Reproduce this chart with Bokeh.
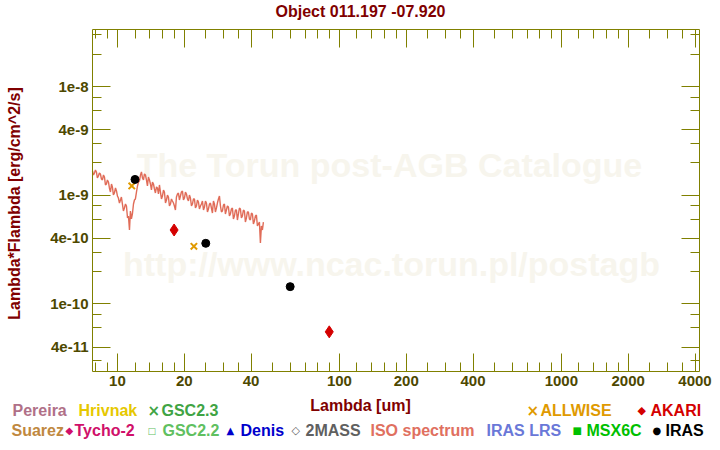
import math
from bokeh.plotting import figure
from bokeh.models import FixedTicker, LogAxis, Label, Range1d, CustomJSTickFormatter
from bokeh.embed import file_html
from bokeh.resources import INLINE

title_text = "Object 011.197 -07.920"
x_label = "Lambda [um]"
y_label = "Lambda*Flambda [erg/cm^2/s]"
watermark_1 = "The Torun post-AGB Catalogue"
watermark_2 = "http://www.ncac.torun.pl/postagb"

x_bounds = (7.72, 4190)
y_bounds = (2.38e-11, 3.37e-8)
x_major = [10, 20, 40, 100, 200, 400, 1000, 2000, 4000]
x_major_labels = ["10", "20", "40", "100", "200", "400", "1000", "2000", "4000"]
x_minor = [8, 9, 12, 14, 16, 18, 25, 30, 35, 50, 60, 70, 80, 90,
           120, 140, 160, 180, 250, 300, 350, 500, 600, 700, 800, 900,
           1200, 1400, 1600, 1800, 2500, 3000, 3500]
y_major = [1e-8, 4e-9, 1e-9, 4e-10, 1e-10, 4e-11]
y_major_labels = ["1e-8", "4e-9", "1e-9", "4e-10", "1e-10", "4e-11"]
y_minor = [3e-8, 2e-8, 8e-9, 6e-9, 3e-9, 2e-9, 8e-10, 6e-10, 3e-10, 2e-10,
           8e-11, 6e-11, 3e-11]

# photometry
iras_wl = [12, 25, 60]
iras_flux = [1.40e-9, 3.61e-10, 1.44e-10]
akari_wl = [18, 90]
akari_flux = [4.79e-10, 5.52e-11]
allwise_wl = [11.6, 22.1]
allwise_flux = [1.22e-9, 3.39e-10]

# ISO spectrum, two interleaved sets of readings (flux in units of 1e-10 erg/cm^2/s)
iso_wl_a = [7.72, 7.88, 8.04, 8.21, 8.38, 8.56, 8.74, 8.92, 9.11, 9.30,
            9.49, 9.69, 9.90, 10.10, 10.32, 10.53, 10.75, 10.98, 11.21, 11.33,
            11.44, 11.68, 11.93, 12.18, 12.44, 12.70, 12.96, 13.23, 13.51, 13.79,
            14.08, 14.38, 14.68, 14.99, 15.30, 15.46, 15.62, 15.95, 16.28, 16.63,
            16.97, 17.33, 17.69, 18.06, 18.44, 18.83, 19.22, 19.63, 20.04, 20.46,
            20.89, 21.32, 21.77, 22.23, 22.70, 23.17, 23.66, 24.15, 24.66, 25.17,
            25.70, 26.24, 26.79, 27.35, 27.92, 28.51, 29.11, 29.72, 30.34, 30.97,
            31.62, 32.28, 32.96, 33.65, 34.36, 35.08, 35.81, 36.56, 37.33, 38.11,
            38.91, 39.72, 40.56, 41.41, 42.27, 43.16, 44.06, 44.52, 44.99, 45.45]
iso_flux_a = [16.75, 16.06, 16.40, 15.06, 15.72, 13.84, 14.74, 12.71, 13.26, 10.72,
              11.93, 10.50, 10.96, 9.44, 9.05, 8.31, 7.64, 7.97, 6.45, 4.79,
              7.17, 6.73, 9.05, 10.72, 13.26, 15.38, 14.44, 15.72, 13.84, 14.74,
              12.71, 13.26, 11.43, 11.93, 10.28, 12.45, 10.72, 9.85, 10.72, 9.05,
              9.65, 8.31, 8.86, 7.97, 9.65, 10.50, 9.85, 10.96, 9.44, 10.28,
              8.86, 9.44, 8.31, 9.25, 7.97, 8.68, 7.97, 8.86, 7.80, 8.49,
              7.48, 8.49, 6.87, 8.31, 7.64, 9.25, 7.97, 7.17, 8.31, 7.32,
              7.80, 6.73, 7.64, 6.45, 7.32, 6.73, 7.48, 6.45, 7.17, 6.18,
              7.02, 5.92, 6.73, 5.80, 6.58, 5.44, 3.63, 5.21, 4.79, 5.67]
iso_wl_b = [7.80, 7.96, 8.12, 8.29, 8.47, 8.65, 8.83, 9.01, 9.20, 9.40,
            9.59, 9.80, 10.00, 10.21, 10.42, 10.64, 10.87, 11.10,
            11.56, 11.81, 12.05, 12.31, 12.57, 12.83, 13.10, 13.37, 13.65, 13.94,
            14.23, 14.53, 14.83, 15.14,
            15.79, 16.12, 16.46, 16.80, 17.15, 17.51, 17.88, 18.25, 18.64, 19.02,
            19.42, 19.83, 20.25, 20.67, 21.10, 21.55, 22.00, 22.46, 22.93, 23.41,
            23.90, 24.41, 24.92, 25.44, 25.97, 26.51, 27.07, 27.63, 28.21, 28.81,
            29.41, 30.03, 30.65, 31.29, 31.95, 32.62, 33.30, 34.00, 34.71, 35.44,
            36.18, 36.94, 37.71, 38.51, 39.31, 40.14, 40.98, 41.84, 42.71, 43.61]
iso_flux_b = [15.38, 17.11, 14.44, 16.06, 14.13, 15.38, 12.45, 13.84, 11.68, 12.71,
              10.06, 11.68, 9.85, 8.49, 9.65, 7.17, 8.31, 6.18,
              6.05, 8.31, 9.25, 12.18, 13.55, 16.40, 13.84, 15.38, 12.18, 13.84,
              11.19, 12.71, 10.50, 11.68,
              9.25, 11.19, 8.49, 10.06, 7.97, 9.25, 8.49, 7.32, 10.28, 9.05,
              10.72, 9.05, 10.72, 9.25, 10.06, 7.97, 9.25, 7.64, 9.05, 7.48,
              8.31, 7.32, 8.86, 7.02, 8.31, 7.64, 8.86, 7.02, 8.49, 9.85,
              7.02, 8.14, 6.73, 7.97, 6.45, 7.48, 6.05, 7.32, 5.92, 7.64,
              6.18, 7.32, 5.67, 7.02, 6.05, 6.87, 5.44, 6.45, 5.21, 5.67]

iso_pairs = sorted(list(zip(iso_wl_a, iso_flux_a)) + list(zip(iso_wl_b, iso_flux_b)))
iso_wl = [w for w, _ in iso_pairs]
iso_flux = [f * 1e-10 for _, f in iso_pairs]

# legend entries: (row, marker_x, marker, marker_size, text_x, label, color)
legend_items = [
    (1, 12, "", 0, 12, "Pereira", "#b07088"),
    (1, 78, "", 0, 78, "Hrivnak", "#e6c800"),
    (1, 147, "\u00d7", 15, 161, "GSC2.3", "#3fa444"),
    (1, 526, "\u00d7", 15, 540, "ALLWISE", "#e09a00"),
    (1, 637, "\u25c6", 11, 650, "AKARI", "#d40000"),
    (2, 11, "", 0, 11, "Suarez", "#c08840"),
    (2, 65, "\u25c6", 10, 74, "Tycho-2", "#d0106a"),
    (2, 147, "\u25a1", 9, 162, "GSC2.2", "#60c060"),
    (2, 226, "\u25b2", 10, 240, "Denis", "#0000cc"),
    (2, 291, "\u25c7", 11, 305, "2MASS", "#606060"),
    (2, 370, "", 0, 370, "ISO spectrum", "#e07060"),
    (2, 486, "", 0, 486, "IRAS LRS", "#6a78d8"),
    (2, 572, "\u25a0", 10, 586, "MSX6C", "#00c000"),
    (2, 652, "\u25cf", 10, 665, "IRAS", "#000000"),
]

OLIVE = "#808000"
TICKTXT = "#4d4800"
DARKRED = "#800000"
FONT = "Liberation Sans"

# plot box in canvas pixels
L, R, T, B = 92, 699, 29, 371
W, H = 720, 450

# extend ranges so that the axis bounds land on the plot box while the
# frame covers the whole canvas (so texts outside the box are not clipped)
xppd = (R - L) / math.log10(x_bounds[1] / x_bounds[0])
yppd = (B - T) / math.log10(y_bounds[1] / y_bounds[0])
x_full = (x_bounds[0] / 10 ** (L / xppd), x_bounds[1] * 10 ** ((W - R) / xppd))
y_full = (y_bounds[0] / 10 ** ((H - B) / yppd), y_bounds[1] * 10 ** (T / yppd))

p = figure(width=W, height=H, x_axis_type="log", y_axis_type="log",
           x_axis_location=None, y_axis_location=None,
           x_range=Range1d(*x_full), y_range=Range1d(*y_full),
           output_backend="svg", toolbar_location=None, title=None,
           min_border=0)
p.background_fill_color = "white"
p.border_fill_color = "white"
p.outline_line_color = None
p.grid.visible = False

xfmt = CustomJSTickFormatter(args=dict(t=x_major, l=x_major_labels),
    code="const i = t.findIndex(v => Math.abs(v/tick - 1) < 1e-6); return i >= 0 ? l[i] : '';")
yfmt = CustomJSTickFormatter(args=dict(t=y_major, l=y_major_labels),
    code="const i = t.findIndex(v => Math.abs(v/tick - 1) < 1e-6); return i >= 0 ? l[i] : '';")

def make_axis(fmt, ticks, minor, bounds, loc, labels=True):
    ax = LogAxis(ticker=FixedTicker(ticks=ticks, minor_ticks=minor),
                 formatter=fmt, bounds=bounds, fixed_location=loc)
    ax.axis_line_color = OLIVE
    ax.major_tick_line_color = OLIVE
    ax.minor_tick_line_color = OLIVE
    ax.major_tick_in = 18
    ax.major_tick_out = 0
    ax.minor_tick_in = 9
    ax.minor_tick_out = 0
    ax.major_label_text_font = FONT
    ax.major_label_text_font_style = "bold"
    ax.major_label_text_font_size = "15px"
    ax.major_label_text_color = TICKTXT if labels else None
    ax.major_label_standoff = 4
    ax.major_label_orientation = "horizontal"
    return ax

p.add_layout(make_axis(xfmt, x_major, x_minor, x_bounds, y_bounds[0]), "below")
p.add_layout(make_axis(yfmt, y_major, y_minor, y_bounds, x_bounds[0]), "left")
p.add_layout(make_axis(xfmt, x_major, x_minor, x_bounds, y_bounds[1], labels=False), "above")
p.add_layout(make_axis(yfmt, y_major, y_minor, y_bounds, x_bounds[1], labels=False), "right")

def add_label(cx, cy, text, color, size, align="left", font=FONT, style="bold",
              angle=0.0, level="annotation"):
    lab = Label(x=cx, y=H - cy, x_units="screen", y_units="screen", text=text,
                text_color=color, text_font_size=f"{size}px", text_font=font,
                text_font_style=style, text_align=align, text_baseline="middle",
                angle=angle, level=level)
    p.add_layout(lab)

# watermark
add_label(389, 164, watermark_1, "#f7f5ed", 34, align="center", level="underlay")
add_label(391, 263, watermark_2, "#f7f5ed", 34, align="center", level="underlay")

p.line(iso_wl, iso_flux, line_color="#e06c58", line_width=1.4)
p.scatter(allwise_wl, allwise_flux, marker="x", size=9, line_width=2, color="#e09a00")
p.scatter(akari_wl, akari_flux, marker="diamond", size=12, color="#d40000")
p.scatter(iras_wl, iras_flux, marker="circle", size=8, color="black")

add_label(360, 11, title_text, DARKRED, 16, align="center")
add_label(360, 405, x_label, DARKRED, 16, align="center")
add_label(14, 203, y_label, DARKRED, 16, align="center", angle=math.pi / 2)

row_y = {1: 410, 2: 430}
for row, mx, mk, msz, tx, text, col in legend_items:
    cy = row_y[row]
    if mk:
        add_label(mx, cy, mk, col, msz, font="DejaVu Sans", style="bold")
    add_label(tx, cy, text, col, 16)

open("out.html", "w").write(file_html(p, INLINE))
